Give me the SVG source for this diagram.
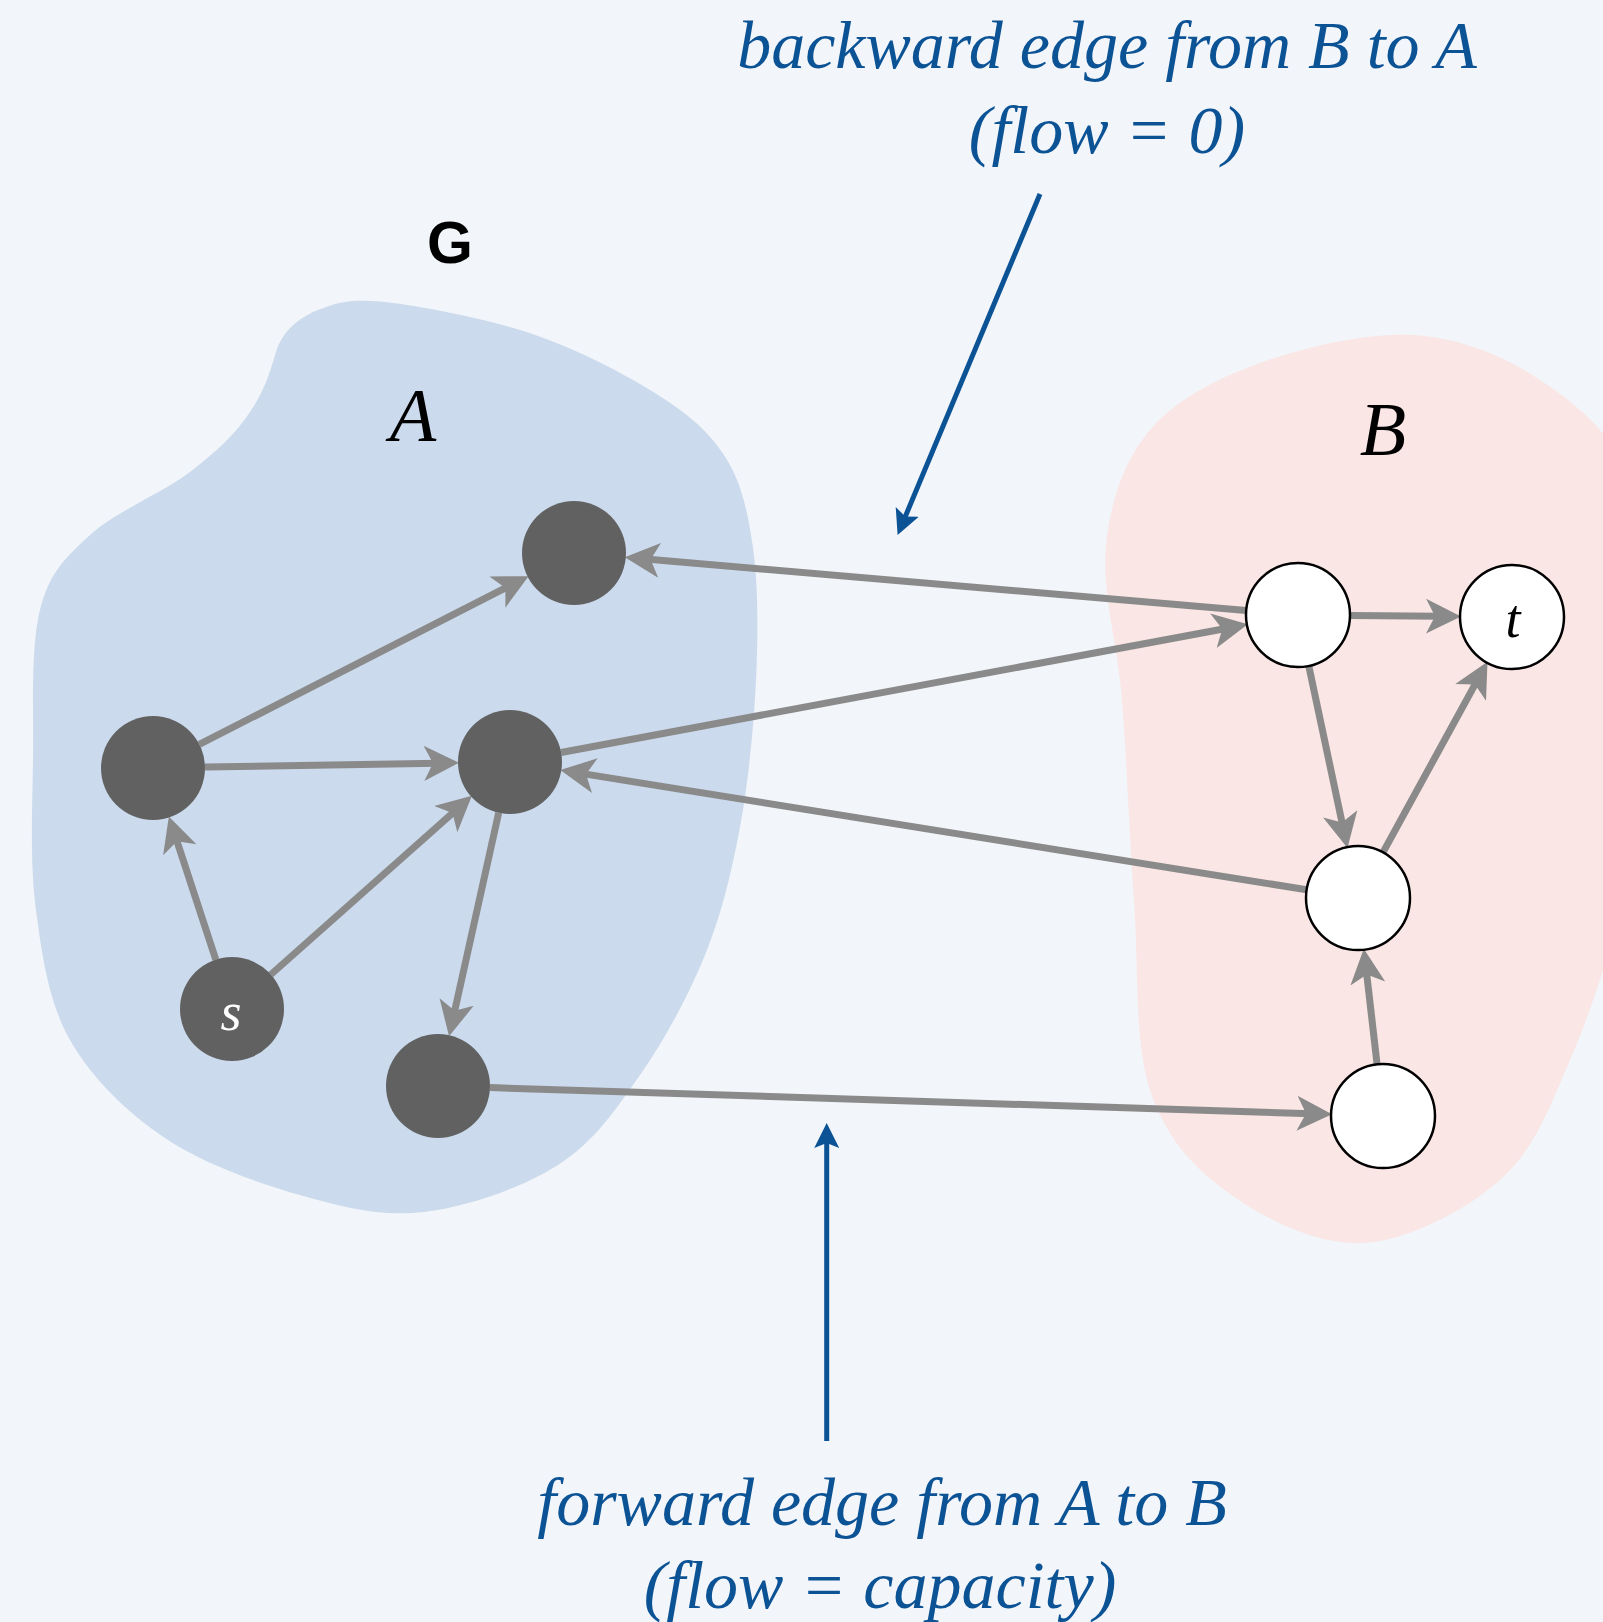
<svg xmlns="http://www.w3.org/2000/svg" width="1603" height="1622" viewBox="0 0 1603 1622">
<style>
.edge{stroke:#8a8a8a;stroke-width:7;fill:none;marker-end:url(#ah)}
.callout{stroke:#0c5396;stroke-width:5;fill:none;marker-end:url(#bh)}
.dark{fill:#616161}
.white{fill:#ffffff;stroke:#000;stroke-width:2.5}
.lbl{font-family:"Liberation Serif","Times New Roman",serif;font-style:italic}
.note{font-family:"Liberation Serif","Times New Roman",serif;font-style:italic;font-size:68px;fill:#0c5396;text-anchor:middle}
</style>
<defs>
<marker id="ah" markerUnits="userSpaceOnUse" markerWidth="40" markerHeight="40" viewBox="0 -20 40 40" refX="14" refY="0" orient="auto">
<path d="M35,0 L0,-17.5 L9,0 L0,17.5 Z" fill="#8a8a8a"/>
</marker>
<marker id="bh" markerUnits="userSpaceOnUse" markerWidth="30" markerHeight="30" viewBox="0 -15 30 30" refX="10" refY="0" orient="auto">
<path d="M25,0 L0,-12.5 L5,0 L0,12.5 Z" fill="#0c5396"/>
</marker>
</defs>
<rect x="0" y="0" width="1603" height="1622" fill="#f2f5f9"/>
<g id="region-A">
<path fill="#cbdaec" d="M370,301 C400,302 472,315.3 520,330 C568,344.7 616,369.2 650,390 C684,410.8 706.8,428.7 724,455 C741.2,481.3 747.7,510.5 753,548 C758.3,585.5 758.2,633.5 756,680 C753.8,726.5 748.5,781.2 740,827 C731.5,872.8 721.7,913.7 705,955 C688.3,996.3 664.5,1040 640,1075 C615.5,1110 594,1142.2 558,1165 C522,1187.8 467,1207 424,1212 C381,1217 343.2,1207.3 300,1195 C256.8,1182.7 203.3,1163.8 165,1138 C126.7,1112.2 91.5,1078 70,1040 C48.5,1002 42.2,956.7 36,910 C29.8,863.3 32.3,810 33,760 C33.7,710 30.5,647.5 40,610 C49.5,572.5 65,558 90,535 C115,512 163.3,492.5 190,472 C216.7,451.5 235,434.3 250,412 C265,389.7 270,372 276,352 C282,332 298,318 318,310 C338,302 350,300 370,301 Z"/>
<text class="lbl" x="413" y="441" font-size="76" text-anchor="middle" fill="#000">A</text>
</g>
<g id="region-B">
<path fill="#fae6e4" d="M1413,335 C1459.7,337.8 1503.8,355.8 1540,380 C1576.2,404.2 1610,430 1630,480 C1650,530 1660.8,611.7 1660,680 C1659.2,748.3 1640,826.7 1625,890 C1610,953.3 1590.8,1011.7 1570,1060 C1549.2,1108.3 1534.5,1149.5 1500,1180 C1465.5,1210.5 1408,1240.7 1363,1243 C1318,1245.3 1265.5,1219.5 1230,1194 C1194.5,1168.5 1166,1139 1150,1090 C1134,1041 1138.7,965 1134,900 C1129.3,835 1126.7,759.2 1122,700 C1117.3,640.8 1101.3,590 1106,545 C1110.7,500 1124.3,460.3 1150,430 C1175.7,399.7 1216.2,378.8 1260,363 C1303.8,347.2 1366.3,332.2 1413,335 Z"/>
<text class="lbl" x="1383" y="455" font-size="76" text-anchor="middle" fill="#000">B</text>
</g>
<g id="title">
<text x="450" y="263" font-family="Liberation Sans, Arial, sans-serif" font-weight="bold" font-size="59" text-anchor="middle" fill="#000">G</text>
</g>
<g id="connectors">
<path class="edge" d="M199.3,744.4 L509.9,585.7"/>
<path class="edge" d="M205,767.1 L438,763.2"/>
<path class="edge" d="M215.8,959.6 L175.4,836.4"/>
<path class="edge" d="M270.9,974.5 L456.2,809.8"/>
<path class="edge" d="M498.7,812.8 L453.6,1015.7"/>
<path class="edge" d="M561.1,752.5 L1227.2,628.2"/>
<path class="edge" d="M1246.2,610.6 L645.7,559.1"/>
<path class="edge" d="M1306.7,889.8 L581,773.4"/>
<path class="edge" d="M490,1087.6 L1311,1113.7"/>
<path class="edge" d="M1350,615.5 L1440,616.3"/>
<path class="edge" d="M1308.8,665.9 L1343.1,827.5"/>
<path class="edge" d="M1383,852.4 L1477.4,680.1"/>
<path class="edge" d="M1377.1,1064.3 L1366.2,969.6"/>
<path class="callout" d="M1040,194 L903.4,521.1"/>
<path class="callout" d="M826.7,1441 L826.7,1138"/>
</g>
<g id="node-a1"><circle class="dark" cx="574" cy="553" r="52"/></g>
<g id="node-a2"><circle class="dark" cx="153" cy="768" r="52"/></g>
<g id="node-a3"><circle class="dark" cx="510" cy="762" r="52"/></g>
<g id="node-s"><circle class="dark" cx="232" cy="1009" r="52"/><text class="lbl" x="231" y="1030" font-size="54" text-anchor="middle" fill="#fff">s</text></g>
<g id="node-a4"><circle class="dark" cx="438" cy="1086" r="52"/></g>
<g id="node-b1"><circle class="white" cx="1298" cy="615" r="52"/></g>
<g id="node-t"><circle class="white" cx="1512" cy="617" r="52"/><text class="lbl" x="1513" y="637" font-size="54" text-anchor="middle" fill="#000">t</text></g>
<g id="node-b2"><circle class="white" cx="1358" cy="898" r="52"/></g>
<g id="node-b3"><circle class="white" cx="1383" cy="1116" r="52"/></g>
<g id="note-backward">
<text class="note" x="1107" y="68">backward edge from B to A</text>
<text class="note" x="1107" y="153">(flow = 0)</text>
</g>
<g id="note-forward">
<text class="note" x="882" y="1525">forward edge from A to B</text>
<text class="note" x="880" y="1608">(flow = capacity)</text>
</g>
</svg>
